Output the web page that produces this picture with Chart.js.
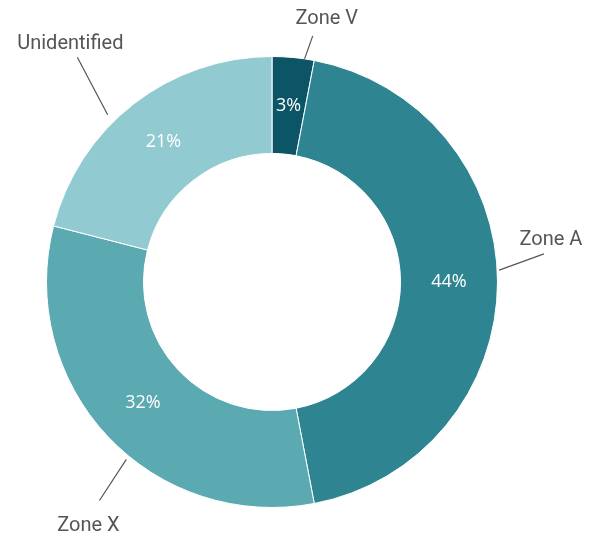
<!DOCTYPE html>
<html>
<head>
	<meta charset="UTF-8">
	<script src="https://cdn.jsdelivr.net/npm/chart.js@4/dist/chart.umd.min.js"></script>
	<style>
		body { margin: 0; background: #fff; }
	</style>
</head>
<body>
	<canvas id="zones" width="592" height="538"></canvas>
	<script>
	var labels = ['Zone V', 'Zone A', 'Zone X', 'Unidentified'];
	var shares = [3, 44, 32, 21];
	var colors = ['#0b5566', '#2e8591', '#5ba9b1', '#92cad1'];

	// leader lines: [start angle, start r, end angle, end r, text dx, text dy] (angles in degrees from top)
	var callouts = [
		[8.3, 226, 9.4, 250, 14, -17],
		[87, 228, 84.1, 274, 7, -14],
		[219.4, 230, 218.3, 279, -11, 26],
		[315.5, 235, 319.1, 298, -7, -13]
	];

	var calloutPlugin = {
		id: 'callouts',
		afterDatasetsDraw: function(chart) {
			var ctx = chart.ctx;
			var meta = chart.getDatasetMeta(0);
			ctx.save();
			meta.data.forEach(function(arc, i) {
				var cx = arc.x, cy = arc.y;
				var mid = (arc.startAngle + arc.endAngle) / 2;
				var r = (arc.innerRadius + arc.outerRadius) / 2;
				ctx.fillStyle = '#fff';
				ctx.font = '18px "Open Sans"';
				ctx.textAlign = 'center';
				ctx.textBaseline = 'middle';
				ctx.fillText(shares[i] + '%', cx + r * Math.cos(mid), cy + r * Math.sin(mid));

				var c = callouts[i];
				var scale = arc.outerRadius / 226;
				var a1 = (c[0] - 90) * Math.PI / 180, a2 = (c[2] - 90) * Math.PI / 180;
				var x1 = cx + c[1] * scale * Math.cos(a1), y1 = cy + c[1] * scale * Math.sin(a1);
				var x2 = cx + c[3] * scale * Math.cos(a2), y2 = cy + c[3] * scale * Math.sin(a2);
				ctx.strokeStyle = '#555';
				ctx.lineWidth = 1.2;
				ctx.beginPath();
				ctx.moveTo(x1, y1);
				ctx.lineTo(x2, y2);
				ctx.stroke();
				ctx.fillStyle = '#555';
				ctx.font = '20px Roboto';
				ctx.fillText(labels[i], x2 + c[4], y2 + c[5]);
			});
			ctx.restore();
		}
	};

	new Chart(document.getElementById('zones').getContext('2d'), {
		type: 'doughnut',
		data: {
			labels: labels,
			datasets: [{
				data: shares,
				backgroundColor: colors,
				borderColor: '#fff',
				borderWidth: 1
			}]
		},
		options: {
			responsive: false,
			animation: false,
			cutout: '57%',
			layout: { padding: { left: 46, right: 94, top: 56, bottom: 30 } },
			plugins: {
				legend: { display: false },
				tooltip: { enabled: false }
			}
		},
		plugins: [calloutPlugin]
	});
	</script>
</body>
</html>
